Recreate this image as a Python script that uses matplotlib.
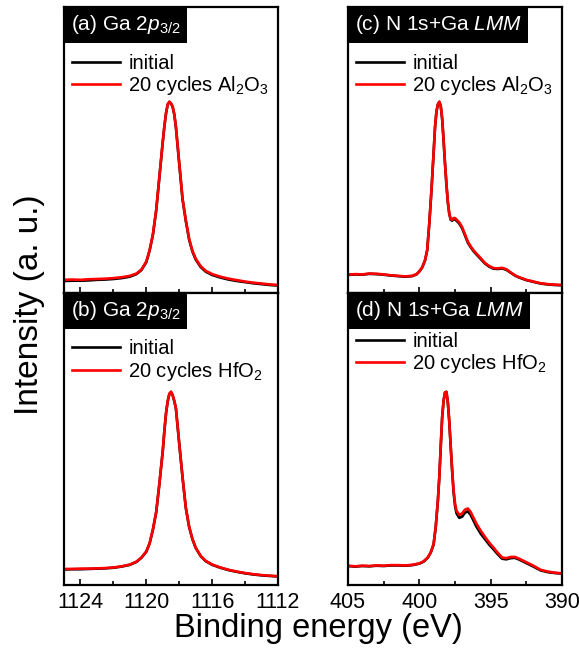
import matplotlib
matplotlib.use("Agg")
from matplotlib import pyplot as plt
from matplotlib.ticker import MultipleLocator

plt.rcParams['font.family'] = ['Liberation Sans', 'DejaVu Sans']
plt.rcParams['mathtext.fontset'] = 'custom'
plt.rcParams['mathtext.rm'] = 'Liberation Sans'
plt.rcParams['mathtext.it'] = 'Liberation Sans:italic'

# Ga 2p3/2 region
E_ga = [1125.0, 1124.5, 1124.0, 1123.5, 1123.0, 1122.5, 1122.0, 1121.5, 1121.0, 1120.6,
        1120.3, 1120.0, 1119.8, 1119.6, 1119.4, 1119.2, 1119.0, 1118.9, 1118.8, 1118.7,
        1118.6, 1118.5, 1118.4, 1118.3, 1118.2, 1118.0, 1117.8, 1117.6, 1117.4, 1117.2,
        1117.0, 1116.7, 1116.4, 1116.0, 1115.5, 1115.0, 1114.5, 1114.0, 1113.5, 1113.0,
        1112.5, 1112.0]
a_init = [0.042, 0.043, 0.043, 0.044, 0.046, 0.047, 0.049, 0.052, 0.057, 0.066,
          0.080, 0.108, 0.148, 0.203, 0.288, 0.408, 0.528, 0.584, 0.629, 0.659,
          0.668, 0.662, 0.651, 0.624, 0.579, 0.452, 0.328, 0.252, 0.187, 0.145,
          0.117, 0.091, 0.075, 0.063, 0.054, 0.047, 0.042, 0.038, 0.034, 0.031,
          0.028, 0.026]
a_al2o3 = [0.046, 0.047, 0.046, 0.048, 0.049, 0.050, 0.052, 0.055, 0.060, 0.068,
           0.082, 0.110, 0.150, 0.205, 0.290, 0.410, 0.530, 0.585, 0.630, 0.660,
           0.669, 0.663, 0.652, 0.625, 0.580, 0.455, 0.330, 0.255, 0.190, 0.148,
           0.120, 0.094, 0.078, 0.066, 0.057, 0.050, 0.045, 0.040, 0.036, 0.033,
           0.030, 0.028]
b_init = [0.053, 0.054, 0.054, 0.055, 0.056, 0.057, 0.059, 0.063, 0.069, 0.079,
          0.093, 0.114, 0.142, 0.189, 0.249, 0.349, 0.459, 0.529, 0.589, 0.629,
          0.654, 0.661, 0.650, 0.630, 0.604, 0.484, 0.369, 0.264, 0.199, 0.157,
          0.127, 0.099, 0.082, 0.069, 0.059, 0.051, 0.045, 0.040, 0.036, 0.033,
          0.031, 0.029]
b_hfo2 = [0.055, 0.055, 0.056, 0.056, 0.057, 0.058, 0.060, 0.064, 0.070, 0.080,
          0.094, 0.115, 0.143, 0.190, 0.250, 0.350, 0.460, 0.530, 0.590, 0.630,
          0.655, 0.662, 0.650, 0.630, 0.605, 0.485, 0.370, 0.265, 0.200, 0.158,
          0.128, 0.100, 0.083, 0.070, 0.060, 0.052, 0.046, 0.041, 0.037, 0.034,
          0.032, 0.030]

# N 1s + Ga LMM region
E_c = [405.0, 404.5, 404.0, 403.5, 403.0, 402.5, 402.0, 401.5, 401.0, 400.5,
       400.2, 400.0, 399.8, 399.6, 399.45, 399.3, 399.15, 399.0, 398.9, 398.8,
       398.7, 398.6, 398.5, 398.4, 398.3, 398.2, 398.1, 398.0, 397.9, 397.8,
       397.7, 397.6, 397.5, 397.4, 397.2, 397.0, 396.8, 396.6, 396.4, 396.2,
       396.0, 395.7, 395.4, 395.1, 394.8, 394.5, 394.2, 393.9, 393.6, 393.3,
       393.0, 392.5, 392.0, 391.5, 391.0, 390.5, 390.0]
c_init = [0.063, 0.065, 0.064, 0.067, 0.066, 0.064, 0.061, 0.059, 0.057, 0.059,
          0.065, 0.075, 0.089, 0.114, 0.149, 0.244, 0.359, 0.489, 0.579, 0.634,
          0.659, 0.668, 0.654, 0.609, 0.534, 0.452, 0.379, 0.316, 0.276, 0.256,
          0.253, 0.258, 0.258, 0.253, 0.243, 0.226, 0.201, 0.176, 0.160, 0.146,
          0.135, 0.119, 0.103, 0.092, 0.085, 0.084, 0.086, 0.081, 0.071, 0.061,
          0.054, 0.045, 0.039, 0.033, 0.030, 0.028, 0.027]
c_al2o3 = [0.064, 0.066, 0.065, 0.068, 0.067, 0.065, 0.062, 0.060, 0.058, 0.060,
           0.066, 0.076, 0.090, 0.115, 0.150, 0.245, 0.360, 0.490, 0.580, 0.635,
           0.660, 0.669, 0.655, 0.610, 0.535, 0.453, 0.380, 0.318, 0.278, 0.258,
           0.256, 0.262, 0.262, 0.257, 0.247, 0.230, 0.205, 0.180, 0.163, 0.149,
           0.138, 0.122, 0.105, 0.094, 0.087, 0.086, 0.088, 0.083, 0.072, 0.062,
           0.055, 0.046, 0.040, 0.034, 0.031, 0.029, 0.028]

E_d = [405.0, 404.5, 404.0, 403.5, 403.0, 402.5, 402.0, 401.5, 401.0, 400.5,
       400.0, 399.7, 399.4, 399.2, 399.0, 398.85, 398.7, 398.6, 398.5, 398.4,
       398.3, 398.2, 398.1, 398.0, 397.9, 397.8, 397.7, 397.6, 397.5, 397.4,
       397.2, 397.0, 396.8, 396.6, 396.4, 396.2, 396.0, 395.7, 395.4, 395.1,
       394.8, 394.5, 394.2, 393.9, 393.6, 393.3, 393.0, 392.5, 392.0, 391.5,
       391.0, 390.5, 390.0]
d_init = [0.065, 0.063, 0.065, 0.064, 0.066, 0.065, 0.067, 0.067, 0.066, 0.068,
          0.073, 0.080, 0.094, 0.111, 0.139, 0.199, 0.289, 0.369, 0.473, 0.574,
          0.631, 0.659, 0.661, 0.624, 0.558, 0.472, 0.390, 0.318, 0.272, 0.246,
          0.230, 0.234, 0.248, 0.252, 0.240, 0.220, 0.200, 0.176, 0.157, 0.138,
          0.122, 0.105, 0.090, 0.088, 0.092, 0.093, 0.087, 0.075, 0.063, 0.050,
          0.044, 0.041, 0.039]
d_hfo2 = [0.066, 0.064, 0.066, 0.065, 0.067, 0.066, 0.068, 0.068, 0.067, 0.069,
          0.074, 0.081, 0.095, 0.112, 0.140, 0.200, 0.290, 0.370, 0.474, 0.575,
          0.632, 0.660, 0.662, 0.625, 0.560, 0.475, 0.395, 0.325, 0.280, 0.255,
          0.240, 0.245, 0.258, 0.262, 0.250, 0.230, 0.210, 0.186, 0.165, 0.145,
          0.128, 0.110, 0.094, 0.092, 0.096, 0.096, 0.090, 0.078, 0.066, 0.052,
          0.046, 0.042, 0.040]

panel_labels = ['(a) Ga 2$p_{3/2}$', '(c) N 1s+Ga $LMM$',
                '(b) Ga 2$p_{3/2}$', '(d) N 1$s$+Ga $LMM$']
film_labels = ['20 cycles Al$_2$O$_3$', '20 cycles Al$_2$O$_3$',
               '20 cycles HfO$_2$', '20 cycles HfO$_2$']
legend_y = [0.865, 0.865, 0.87, 0.895]

W, H = 579, 652
fig = plt.figure(figsize=(W / 100, H / 100), dpi=100)

def px_axes(x0, y0, x1, y1):
    return fig.add_axes([x0 / W, 1 - y1 / H, (x1 - x0) / W, (y1 - y0) / H])

ax_a = px_axes(64, 7, 278, 293)
ax_c = px_axes(348, 7, 562, 293)
ax_b = px_axes(64, 293, 278, 585)
ax_d = px_axes(348, 293, 562, 585)

panels = [(ax_a, E_ga, a_init, a_al2o3), (ax_c, E_c, c_init, c_al2o3),
          (ax_b, E_ga, b_init, b_hfo2), (ax_d, E_d, d_init, d_hfo2)]

for i, (ax, E, y0, y1) in enumerate(panels):
    ax.plot(E, y0, color='black', lw=1.9, label='initial')
    ax.plot(E, y1, color='#ff0000', lw=1.9, label=film_labels[i])
    ax.set_ylim(0, 1)
    if i % 2 == 0:
        ax.set_xlim(1125, 1112)
        ax.xaxis.set_major_locator(MultipleLocator(4))
        ax.xaxis.set_minor_locator(MultipleLocator(2))
    else:
        ax.set_xlim(405, 390)
        ax.xaxis.set_major_locator(MultipleLocator(5))
        ax.xaxis.set_minor_locator(MultipleLocator(2.5))
    ax.set_yticks([])
    ax.tick_params(axis='x', which='both', direction='in', labelsize=15.5, pad=5)
    ax.tick_params(axis='x', which='major', length=4, width=1.2)
    ax.tick_params(axis='x', which='minor', length=3, width=1.2)
    if i < 2:
        ax.tick_params(axis='x', labelbottom=False)
    for s in ax.spines.values():
        s.set_linewidth(1.6)
    ax.annotate(panel_labels[i], xy=(0, 1), xycoords='axes fraction',
                xytext=(5, -4.5), textcoords='offset points', ha='left', va='top',
                fontsize=15, color='white',
                bbox=dict(boxstyle='square,pad=0.3', fc='black', ec='none'))
    ax.legend(loc='upper left', bbox_to_anchor=(0.0, legend_y[i]), frameon=False,
              fontsize=14.5, handlelength=2.4, handletextpad=0.4,
              labelspacing=0.08, borderpad=0.2, borderaxespad=0.2)

fig.text(30 / W, 1 - 305 / H, 'Intensity (a. u.)', rotation=90, ha='center',
         va='center', fontsize=24)
fig.text(318 / W, 1 - 628 / H, 'Binding energy (eV)', ha='center', va='center',
         fontsize=23.5)

fig.savefig('out.png', dpi=100)
